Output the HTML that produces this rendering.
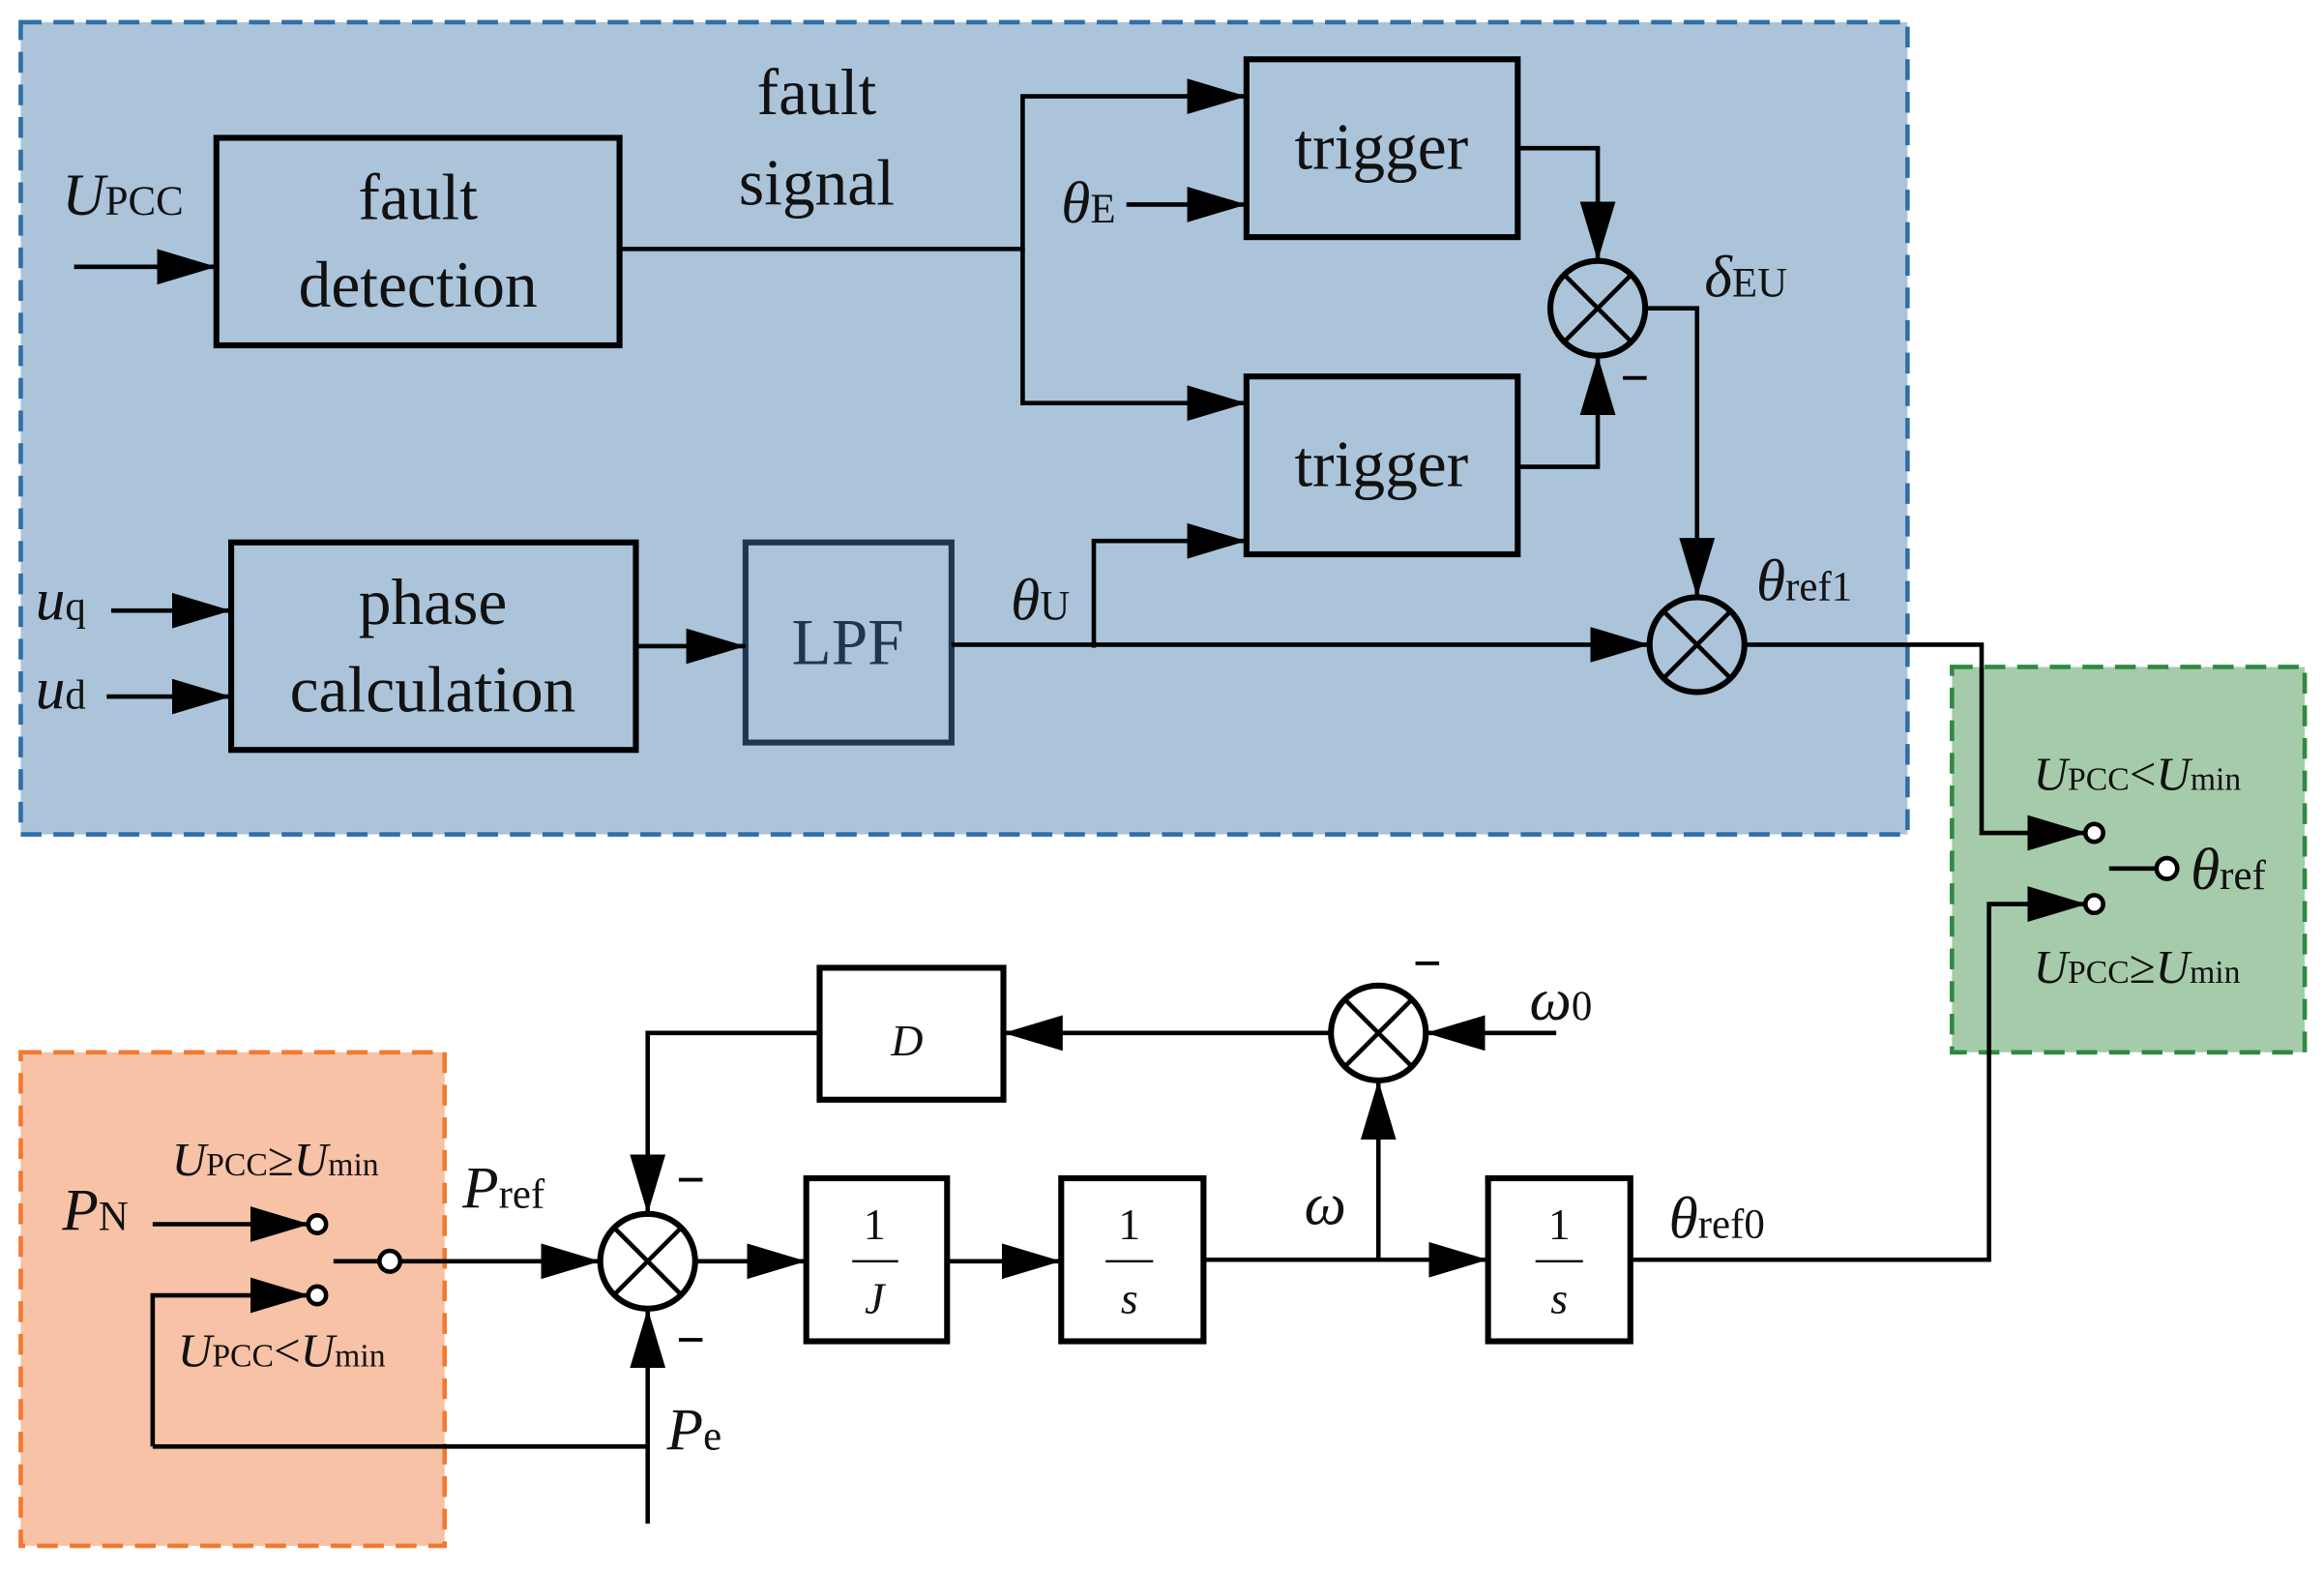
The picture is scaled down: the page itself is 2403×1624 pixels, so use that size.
<!DOCTYPE html>
<html><head><meta charset="utf-8"><style>
html,body{margin:0;padding:0;background:#fff}
svg{display:block}
svg text, svg tspan{font-family:"Liberation Serif","DejaVu Serif",serif !important;fill:#111}
.it{font-style:italic}
</style></head><body>
<svg width="2403" height="1624" viewBox="0 0 1568 1060" preserveAspectRatio="none" xmlns="http://www.w3.org/2000/svg" font-family="Liberation Serif, serif">
<defs>
<marker id="b" viewBox="0 0 40 24" refX="40" refY="12" markerWidth="40" markerHeight="24" markerUnits="userSpaceOnUse" orient="auto"><path d="M0,0L40,12L0,24z" fill="#000"/></marker>
</defs>
<rect x="14" y="15" width="1273" height="548" fill="#abc4da" stroke="#2f6ea6" stroke-width="3" stroke-dasharray="14,8"/>
<rect x="1317" y="450" width="238" height="260" fill="#a6cbab" stroke="#2e8a40" stroke-width="3" stroke-dasharray="14,8"/>
<rect x="14" y="710" width="286" height="333" fill="#f7c2a6" stroke="#f07a30" stroke-width="3" stroke-dasharray="14,8"/>
<g fill="none" stroke="#000" stroke-width="4">
<rect x="146" y="93" width="272" height="140"/>
<rect x="841" y="40" width="183" height="120"/>
<rect x="841" y="254" width="183" height="120"/>
<rect x="156" y="366" width="273" height="140"/>
<rect x="503" y="366" width="139" height="135" stroke="#1f3550"/>
<rect x="553" y="653" width="124" height="89" fill="#fff"/>
<rect x="544" y="795" width="95" height="110" fill="#fff"/>
<rect x="716" y="795" width="96" height="110" fill="#fff"/>
<rect x="1004" y="795" width="96" height="110" fill="#fff"/>
</g>
<g fill="#fff" stroke="#000" stroke-width="4">
<circle cx="1078" cy="208" r="32" fill="none"/><circle cx="1145" cy="435" r="32" fill="none"/>
<circle cx="930" cy="697" r="32"/><circle cx="437" cy="851" r="32"/>
</g>
<g stroke="#000" stroke-width="3">
<path d="M1055,185L1101,231M1101,185L1055,231M1122,412L1168,458M1168,412L1122,458M907,674L953,720M953,674L907,720M414,828L460,874M460,828L414,874"/>
</g>
<g fill="none" stroke="#000" stroke-width="3" marker-end="url(#b)">
<path d="M50,180H146"/>
<path d="M418,168H690V65H841"/>
<path d="M690,168V272H841"/>
<path d="M760,138H841"/>
<path d="M1024,100H1078V176"/>
<path d="M1024,315H1078V240"/>
<path d="M1110,208H1145V403"/>
<path d="M75,412H156"/>
<path d="M72,470H156"/>
<path d="M429,436H503"/>
<path d="M642,435H1113"/>
<path d="M738,437V365H841"/>
<path d="M1177,435H1337V562H1408"/>
<path d="M1100,850H1342V610H1408"/>
<path d="M103,826H209"/>
<path d="M103,976V874H209"/>
<path d="M270,851H405"/>
<path d="M437,1028V883"/>
<path d="M898,697H677"/>
<path d="M553,697H437V819"/>
<path d="M469,851H544"/>
<path d="M639,851H716"/>
<path d="M812,850H1004"/>
<path d="M930,850V729"/>
<path d="M1050,697H962"/>
</g>
<path d="M103,976H437M225,851H257M1423,586H1455" stroke="#000" stroke-width="3" fill="none"/>
<g fill="#fff" stroke="#000" stroke-width="3">
<circle cx="1413" cy="562" r="6"/><circle cx="1413" cy="610" r="6"/><circle cx="1462" cy="586" r="7"/>
<circle cx="214" cy="826" r="6"/><circle cx="214" cy="874" r="6"/><circle cx="263" cy="851" r="7"/>
</g>
<g font-size="44" text-anchor="middle">
<text x="282" y="148">fault</text><text x="282" y="207">detection</text>
<text x="932" y="114">trigger</text><text x="932" y="328">trigger</text>
<text x="292" y="421">phase</text><text x="292" y="480">calculation</text>
<text x="572" y="448" style="fill:#1f3550">LPF</text>
<text x="551" y="77">fault</text><text x="551" y="138">signal</text>
</g>
<g font-size="30" text-anchor="middle">
<text x="612" y="712" class="it">D</text>
<text x="590" y="836">1</text><text x="590" y="886" class="it">J</text>
<text x="762" y="836">1</text><text x="762" y="886" class="it">s</text>
<text x="1052" y="836">1</text><text x="1052" y="886" class="it">s</text>
</g>
<path d="M575,851H606M746,851H778M1036,851H1068" stroke="#000" stroke-width="1.5"/>
<g font-size="40">
<text x="42" y="145"><tspan class="it">U</tspan><tspan font-size="28">PCC</tspan></text>
<text x="716" y="150"><tspan class="it">θ</tspan><tspan font-size="28">E</tspan></text>
<text x="1150" y="200"><tspan class="it">δ</tspan><tspan font-size="28">EU</tspan></text>
<text x="1185" y="405"><tspan class="it">θ</tspan><tspan font-size="28">ref1</tspan></text>
<text x="682" y="418"><tspan class="it">θ</tspan><tspan font-size="28">U</tspan></text>
<text x="24" y="418"><tspan class="it">u</tspan><tspan font-size="28">q</tspan></text>
<text x="24" y="478"><tspan class="it">u</tspan><tspan font-size="28">d</tspan></text>
<text x="1478" y="600"><tspan class="it">θ</tspan><tspan font-size="28">ref</tspan></text>
<text x="1032" y="688"><tspan class="it">ω</tspan><tspan font-size="28">0</tspan></text>
<text x="880" y="826" class="it">ω</text>
<text x="1126" y="835"><tspan class="it">θ</tspan><tspan font-size="28">ref0</tspan></text>
<text x="42" y="830"><tspan class="it">P</tspan><tspan font-size="28">N</tspan></text>
<text x="312" y="815"><tspan class="it">P</tspan><tspan font-size="28">ref</tspan></text>
<text x="450" y="978"><tspan class="it">P</tspan><tspan font-size="28">e</tspan></text>
</g>
<g font-size="32">
<text x="1372" y="533"><tspan class="it">U</tspan><tspan font-size="22">PCC</tspan>&lt;<tspan class="it">U</tspan><tspan font-size="22">min</tspan></text>
<text x="1372" y="663"><tspan class="it">U</tspan><tspan font-size="22">PCC</tspan>≥<tspan class="it">U</tspan><tspan font-size="22">min</tspan></text>
<text x="116" y="793"><tspan class="it">U</tspan><tspan font-size="22">PCC</tspan>≥<tspan class="it">U</tspan><tspan font-size="22">min</tspan></text>
<text x="120" y="922"><tspan class="it">U</tspan><tspan font-size="22">PCC</tspan>&lt;<tspan class="it">U</tspan><tspan font-size="22">min</tspan></text>
</g>
<g stroke="#000" stroke-width="2.5">
<path d="M1095,255H1111M955,650H971M458,796H474M458,904H474"/>
</g>
</svg>
</body></html>
